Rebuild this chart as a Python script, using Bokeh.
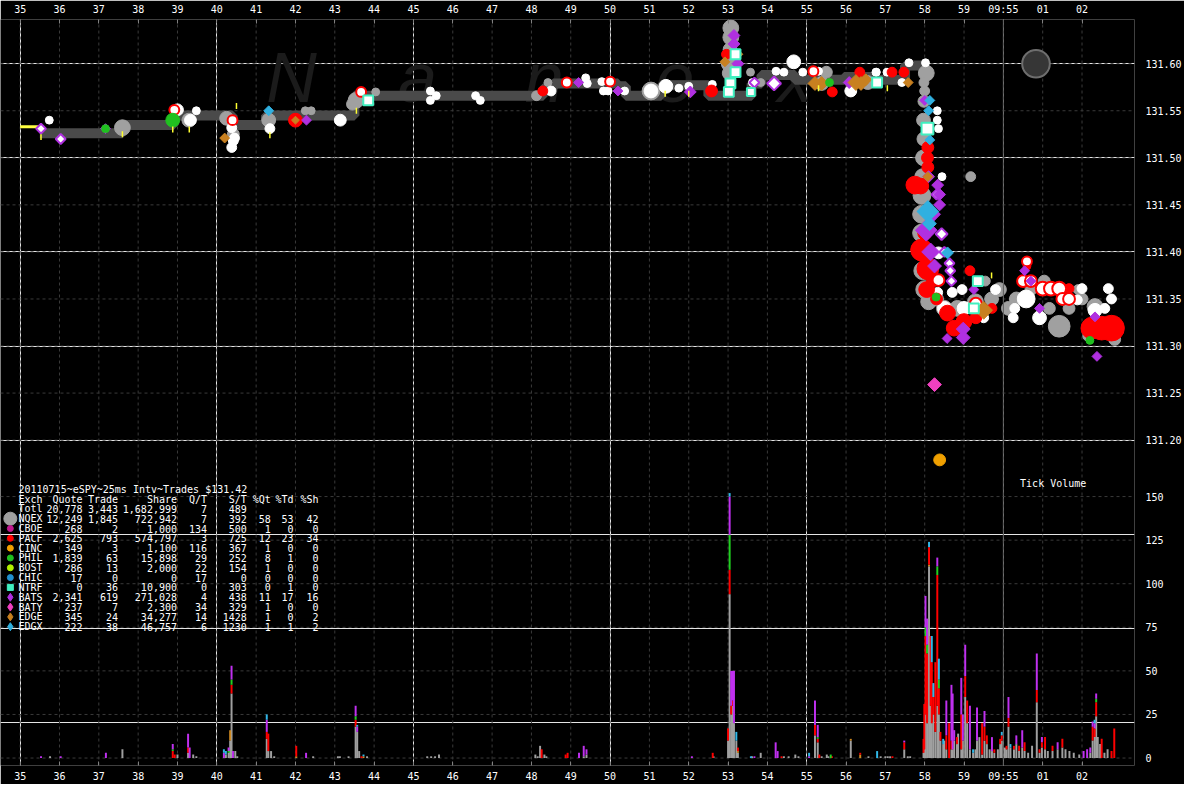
import numpy as np
from bokeh.plotting import figure
from bokeh.models import (Range1d, LinearAxis, FixedTicker, CustomJSTickFormatter,
                          Span, ColumnDataSource)
from bokeh.core.properties import value
from bokeh.embed import file_html
from bokeh.resources import INLINE

# ---------------------------------------------------------------- data
x_tick_secs = list(range(35, 63))
x_tick_labels = [str(s) for s in range(35, 60)] + ["09:55", "01", "02"]
price_ticks = [131.20, 131.25, 131.30, 131.35, 131.40, 131.45, 131.50, 131.55, 131.60, 131.65]
vol_ticks = [0, 25, 50, 75, 100, 125, 150]

band_t = [35.5, 37.6, 38.9, 40.4, 41.25, 43.5, 48.3, 48.55, 50.2, 50.4, 51.3, 52.5, 53.6, 53.85,
          54.7, 55.95, 56.75, 57.5, 58.05]
band_p = [131.526, 131.535, 131.545, 131.535, 131.545, 131.566, 131.574, 131.579, 131.576, 131.566,
          131.577, 131.566, 131.579, 131.588, 131.583, 131.586, 131.583, 131.598, 131.598]
yellow_t = [35.0, 35.5]
yellow_p = [131.533, 131.533]

nqex_pts = [(37.60, 131.532, 16), (39.29, 131.540, 14), (40.25, 131.542, 14), (40.42, 131.525, 12),
            (41.32, 131.540, 14), (42.25, 131.550, 8), (42.40, 131.550, 8), (43.45, 131.557, 12),
            (43.54, 131.561, 16), (44.04, 131.570, 8), (48.13, 131.566, 10), (48.42, 131.580, 8),
            (51.04, 131.571, 18), (53.07, 131.638, 16), (53.07, 131.628, 16), (53.05, 131.615, 14),
            (53.03, 131.600, 16), (53.03, 131.590, 14), (53.57, 131.591, 8), (53.83, 131.580, 8),
            (55.50, 131.591, 12), (55.38, 131.579, 14), (56.55, 131.580, 14), (58.04, 131.590, 16),
            (57.98, 131.580, 10), (58.00, 131.571, 10), (57.98, 131.560, 12), (57.97, 131.540, 14),
            (57.98, 131.520, 14), (57.97, 131.500, 16), (57.95, 131.480, 16), (57.93, 131.460, 18),
            (57.92, 131.440, 18), (57.92, 131.420, 18), (57.93, 131.400, 18), (57.95, 131.380, 18),
            (58.00, 131.360, 18), (58.10, 131.347, 16), (58.30, 131.350, 14), (58.50, 131.340, 16),
            (58.83, 131.340, 16), (59.17, 131.480, 10), (59.29, 131.347, 16), (59.54, 131.369, 10),
            (59.70, 131.350, 14), (59.90, 131.360, 14), (60.13, 131.340, 14), (60.33, 131.350, 14),
            (60.70, 131.360, 12), (61.04, 131.369, 12), (61.17, 131.340, 12), (61.42, 131.321, 22),
            (61.67, 131.340, 12), (61.90, 131.360, 10), (62.00, 131.350, 12), (62.33, 131.342, 16),
            (62.17, 131.311, 12), (62.83, 131.307, 12)]
white_pts = [(35.74, 131.540, 8), (39.00, 131.551, 12), (39.33, 131.540, 12), (39.48, 131.550, 8),
             (40.38, 131.532, 10), (40.45, 131.521, 10), (40.38, 131.511, 10), (40.42, 131.518, 10),
             (41.35, 131.531, 10), (43.14, 131.540, 12), (45.43, 131.571, 8), (45.58, 131.566, 8),
             (45.43, 131.561, 8), (46.58, 131.566, 8), (46.70, 131.561, 8), (48.50, 131.571, 10),
             (49.38, 131.585, 8), (49.42, 131.579, 8), (49.79, 131.581, 8), (49.83, 131.571, 8),
             (49.95, 131.571, 8), (50.37, 131.571, 8), (51.04, 131.571, 14), (51.42, 131.576, 14),
             (51.75, 131.574, 8), (52.00, 131.576, 8), (52.60, 131.578, 8), (53.62, 131.580, 8),
             (54.22, 131.592, 8), (54.42, 131.591, 8), (54.67, 131.602, 14), (54.90, 131.591, 8),
             (55.30, 131.592, 8), (56.12, 131.571, 12), (56.76, 131.591, 8), (56.80, 131.580, 8),
             (57.04, 131.591, 8), (57.42, 131.580, 8), (57.60, 131.601, 8), (58.02, 131.601, 8),
             (56.77, 131.591, 8), (58.32, 131.550, 8), (58.32, 131.540, 8), (58.35, 131.531, 8),
             (58.44, 131.480, 8), (58.35, 131.399, 12), (58.33, 131.357, 10), (58.70, 131.357, 10),
             (58.50, 131.340, 14), (59.00, 131.340, 14), (59.50, 131.330, 10), (60.58, 131.350, 18),
             (60.29, 131.340, 10), (60.25, 131.330, 10), (60.92, 131.330, 14), (61.88, 131.349, 10),
             (62.00, 131.361, 10), (62.67, 131.361, 10), (62.75, 131.350, 10), (62.58, 131.340, 10),
             (62.33, 131.338, 14), (58.95, 131.360, 10), (59.80, 131.360, 10)]
pacf_pts = [(42.00, 131.540, 14), (48.29, 131.571, 10), (52.58, 131.571, 12), (52.96, 131.610, 10),
            (55.65, 131.570, 10), (56.35, 131.591, 10), (57.17, 131.591, 10), (57.47, 131.591, 10),
            (58.08, 131.511, 12), (58.07, 131.500, 12), (58.08, 131.490, 12), (57.90, 131.470, 16),
            (57.75, 131.471, 18), (58.00, 131.420, 14), (57.92, 131.402, 22), (58.08, 131.382, 22),
            (58.20, 131.369, 12), (58.05, 131.360, 16), (58.30, 131.350, 12), (58.58, 131.335, 16),
            (59.00, 131.326, 16), (58.75, 131.319, 16), (59.15, 131.380, 10), (59.30, 131.330, 12),
            (59.71, 131.340, 10), (60.60, 131.385, 8), (61.50, 131.361, 10), (61.67, 131.361, 10),
            (62.25, 131.319, 22), (62.50, 131.319, 24), (62.75, 131.319, 26)]
pacf_quote_pts = [(38.92, 131.551, 10), (40.40, 131.540, 10), (43.67, 131.570, 10), (48.90, 131.580, 10),
                  (50.00, 131.581, 10), (55.17, 131.592, 10), (58.35, 131.370, 12), (59.30, 131.345, 12),
                  (60.50, 131.369, 12), (60.70, 131.369, 12), (61.00, 131.361, 14), (61.21, 131.361, 14),
                  (61.42, 131.361, 14), (61.50, 131.350, 12), (61.67, 131.350, 12), (60.60, 131.390, 10)]
bats_quote_pts = [(35.53, 131.531, 10), (36.03, 131.520, 10), (53.67, 131.580, 10), (54.17, 131.579, 14),
                  (58.30, 131.461, 10), (58.43, 131.419, 12), (58.63, 131.388, 10), (58.65, 131.380, 10),
                  (58.68, 131.369, 10), (58.50, 131.400, 10)]
bats_pts = [(37.17, 131.531, 10), (38.90, 131.540, 10), (42.28, 131.540, 10), (49.20, 131.580, 10),
            (50.20, 131.571, 10), (52.04, 131.570, 12), (53.15, 131.630, 12), (53.15, 131.621, 12),
            (53.25, 131.600, 12), (56.08, 131.580, 12), (58.00, 131.561, 10), (58.10, 131.480, 12),
            (58.33, 131.471, 12), (58.38, 131.461, 12), (58.38, 131.450, 12), (58.20, 131.440, 16),
            (58.04, 131.423, 22), (58.15, 131.400, 18), (58.25, 131.385, 14), (58.98, 131.318, 14),
            (58.98, 131.309, 14), (58.57, 131.308, 10), (59.25, 131.360, 10), (60.54, 131.380, 10),
            (60.70, 131.369, 10), (60.92, 131.340, 10), (62.33, 131.331, 10), (62.38, 131.289, 10)]
edgx_pts = [(41.32, 131.550, 10), (58.13, 131.561, 10), (58.10, 131.550, 10), (58.13, 131.519, 10),
            (58.08, 131.443, 22), (58.12, 131.430, 14), (58.58, 131.399, 12)]
edge_pts = [(40.20, 131.521, 10), (42.00, 131.540, 8), (52.92, 131.602, 10), (53.25, 131.610, 10),
            (55.21, 131.579, 14), (55.38, 131.579, 14), (56.25, 131.580, 16), (56.38, 131.579, 14),
            (56.50, 131.583, 12), (57.58, 131.580, 10), (58.08, 131.480, 10), (59.50, 131.338, 18)]
ntrf_pts = [(43.85, 131.561, 10), (53.19, 131.610, 10), (53.19, 131.591, 10), (53.06, 131.579, 10),
            (53.02, 131.570, 10), (53.58, 131.570, 8), (56.79, 131.580, 10), (58.07, 131.531, 12),
            (59.35, 131.369, 10), (59.25, 131.340, 10)]
phil_pts = [(37.17, 131.531, 8), (38.88, 131.540, 14), (55.58, 131.580, 8), (58.29, 131.352, 8),
            (62.20, 131.306, 8)]
bost_pts = [(35.53, 131.522, 6), (37.60, 131.525, 6), (38.88, 131.530, 6), (39.30, 131.530, 6),
            (40.50, 131.555, 6), (41.35, 131.524, 6), (43.55, 131.550, 6), (51.40, 131.568, 6),
            (52.00, 131.568, 6), (55.30, 131.574, 6), (57.05, 131.574, 6), (59.70, 131.375, 6)]
baty_pts = [(58.25, 131.259, 14)]
cinc_pts = [(58.38, 131.179, 12)]
indicator_t = [60.83]
indicator_p = [131.60]

vol_gray = [(35.76, 1), (37.60, 5), (39.00, 2), (39.27, 3), (39.40, 2), (39.48, 1), (40.23, 2), (40.30, 3),
            (40.34, 10), (40.375, 37), (40.47, 4), (40.52, 1), (41.27, 11), (41.31, 4), (41.38, 4),
            (41.46, 1), (42.45, 1), (43.08, 1), (43.13, 1), (43.35, 1), (43.53, 18), (43.57, 15),
            (43.62, 4), (43.82, 1), (45.35, 1), (45.45, 1), (45.55, 1), (45.65, 2), (48.10, 2), (48.16, 1),
            (48.22, 7), (48.33, 2), (48.38, 1), (49.33, 1), (49.40, 2), (52.63, 1), (53.00, 10),
            (53.04, 94), (53.08, 25), (53.12, 30), (53.15, 20), (53.21, 10), (53.25, 3), (53.61, 1),
            (53.83, 3), (54.42, 1), (54.54, 1), (54.71, 2), (54.79, 1), (55.21, 13), (55.28, 9),
            (55.38, 1), (55.51, 2), (55.55, 1), (56.12, 10), (56.57, 1), (56.88, 1), (57.00, 1),
            (57.06, 1), (57.12, 1), (57.48, 5), (57.57, 1), (57.63, 1), (57.97, 3), (57.99, 5),
            (58.02, 25), (58.06, 20), (58.11, 110), (58.15, 30), (58.18, 20), (58.22, 25), (58.27, 15),
            (58.32, 30), (58.36, 25), (58.40, 10), (58.47, 8), (58.50, 10), (58.55, 5), (58.68, 5),
            (58.71, 5), (58.75, 10), (58.82, 8), (58.85, 14), (58.93, 5), (58.97, 10), (59.03, 35),
            (59.08, 20), (59.15, 5), (59.23, 3), (59.29, 5), (59.33, 10), (59.39, 12), (59.46, 2),
            (59.52, 10), (59.58, 8), (59.65, 5), (59.71, 4), (59.77, 3), (59.86, 5), (59.92, 8),
            (59.96, 10), (60.04, 6), (60.08, 5), (60.13, 18), (60.18, 6), (60.27, 5), (60.33, 8),
            (60.40, 4), (60.48, 6), (60.54, 4), (60.63, 3), (60.73, 7), (60.85, 32), (60.92, 3),
            (60.98, 6), (61.06, 5), (61.13, 4), (61.25, 4), (61.38, 5), (61.50, 6), (61.58, 5),
            (61.68, 4), (61.79, 3), (61.93, 2), (62.21, 3), (62.27, 10), (62.32, 12), (62.36, 24),
            (62.40, 12), (62.46, 8), (62.57, 3), (62.65, 5)]
vol_orange = [(40.34, 6), (42.02, 1), (43.73, 1), (53.25, 1), (56.12, 1), (56.36, 2), (58.11, 1)]
vol_red = [(38.88, 4), (38.93, 2), (39.27, 3), (40.375, 5), (41.27, 4), (41.31, 10), (42.02, 6), (43.53, 4),
           (43.68, 1), (48.26, 5), (48.87, 2), (48.92, 3), (52.61, 3), (53.00, 7), (53.04, 14), (53.08, 5),
           (53.12, 3), (53.25, 2), (54.36, 1), (55.21, 6), (55.28, 2), (55.32, 2), (55.64, 1), (56.36, 1),
           (57.18, 1), (57.48, 4), (57.97, 8), (57.99, 26), (58.02, 45), (58.06, 40), (58.11, 10),
           (58.15, 40), (58.18, 35), (58.22, 10), (58.27, 40), (58.32, 75), (58.36, 15), (58.40, 5),
           (58.55, 8), (58.62, 20), (58.68, 5), (58.82, 4), (58.93, 20), (59.03, 12), (59.08, 13),
           (59.46, 18), (59.52, 8), (59.58, 5), (59.77, 2), (59.92, 3), (59.96, 3), (60.08, 2),
           (60.13, 5), (60.27, 2), (60.40, 3), (60.54, 5), (60.85, 7), (60.92, 2), (60.98, 3),
           (61.06, 7), (61.25, 3), (61.50, 5), (62.27, 8), (62.32, 5), (62.36, 8), (62.50, 11),
           (62.75, 4), (62.82, 17)]
vol_green = [(38.88, 1), (40.30, 1), (40.375, 3), (43.53, 2), (53.04, 20), (55.28, 1), (55.61, 2),
             (58.02, 5), (58.06, 5), (58.32, 5), (58.36, 5), (62.36, 2)]
vol_purple = [(35.53, 1), (36.03, 1), (37.18, 3), (38.88, 3), (39.27, 8), (39.31, 6), (40.18, 3), (40.30, 2),
              (40.375, 8), (40.41, 4), (41.27, 7), (42.27, 3), (43.53, 6), (43.57, 3), (49.21, 3),
              (49.33, 6), (49.40, 3), (52.08, 1), (53.04, 22), (53.08, 20), (53.12, 17), (53.15, 30),
              (53.67, 1), (54.21, 9), (54.26, 4), (55.06, 1), (55.21, 14), (55.28, 7), (57.48, 1),
              (58.02, 18), (58.06, 15), (58.32, 5), (58.55, 20), (58.68, 32), (58.71, 32), (58.75, 6),
              (58.93, 21), (58.97, 15), (59.03, 18), (59.15, 25), (59.33, 19), (59.52, 9), (59.71, 8),
              (60.13, 12), (60.33, 5), (60.48, 10), (60.85, 21), (60.98, 3), (61.38, 4), (62.04, 4),
              (62.13, 5), (62.21, 3), (62.27, 3), (62.32, 3), (62.36, 3)]
vol_blue = [(40.18, 2), (40.23, 2), (41.27, 3), (43.57, 1), (43.73, 1), (53.04, 2), (53.21, 5), (53.58, 1),
            (55.06, 2), (56.79, 4), (58.11, 3), (58.18, 15), (58.22, 8), (58.36, 12), (58.47, 3),
            (59.23, 2), (59.96, 2), (60.18, 2), (62.32, 2)]

table_title = "20110715~eSPY~25ms Intv~Trades $131.42"
table_header = ["Exch", "Quote", "Trade", "Share", "Q/T", "S/T", "%Qt", "%Td", "%Sh"]
exch = ["Totl", "NQEX", "CBOE", "PACF", "CINC", "PHIL", "BOST", "CHIC", "NTRF", "BATS", "BATY", "EDGE", "EDGX"]
quotes = ["20,778", "12,249", "268", "2,625", "349", "1,839", "286", "17", "0", "2,341", "237", "345", "222"]
trades = ["3,443", "1,845", "2", "793", "3", "63", "13", "0", "36", "619", "7", "24", "38"]
shares = ["1,682,999", "722,942", "1,000", "574,797", "1,100", "15,898", "2,000", "0", "10,900",
          "271,028", "2,300", "34,277", "46,757"]
q_per_t = ["7", "7", "134", "3", "116", "29", "22", "17", "0", "4", "34", "14", "6"]
s_per_t = ["489", "392", "500", "725", "367", "252", "154", "0", "303", "438", "329", "1428", "1230"]
pct_qt = ["", "58", "1", "12", "1", "8", "1", "0", "0", "11", "1", "1", "1"]
pct_td = ["", "53", "0", "23", "0", "1", "0", "0", "1", "17", "0", "0", "1"]
pct_sh = ["", "42", "0", "34", "0", "0", "0", "0", "0", "16", "0", "2", "2"]
exch_colors = ["#a0a0a0", "#c01890", "#ff0000", "#f0a000", "#20c020", "#b0f000", "#2090d0",
               "#40f0c0", "#b030e0", "#f040c0", "#c88020", "#30b0e0"]
exch_markers = ["circle"] * 7 + ["square"] + ["diamond"] * 4
watermark = ["N", "a", "n", "e", "x"]

# ---------------------------------------------------------------- layout
W, H = 1184, 784
BL, BR, BT, BB = 0, 46, 16, 16
SX, SY = W / 1200.0, H / 800.0
X0_REF, SEC_PX = 20.0, 40.0
P_REF_Y, P_REF, P_PX = 449.0, 131.20, 968.0
V0_Y, V_PX = 776.0, 1.793


def sec_of(xr):
    return 35 + (xr - X0_REF) / SEC_PX


def price_of(yr):
    return P_REF - (yr - P_REF_Y) / P_PX


def vol_of(yr):
    return (V0_Y - yr) / V_PX


left_ref, right_ref = BL / SX, (W - BR) / SX
top_ref, bot_ref = BT / SY, (H - BB) / SY
x0, x1 = sec_of(left_ref), sec_of(right_ref)
y0, y1 = price_of(bot_ref), price_of(top_ref)

p = figure(width=W, height=H, output_backend="svg", toolbar_location=None,
           x_range=Range1d(x0, x1), y_range=Range1d(y0, y1),
           x_axis_location=None, y_axis_location=None,
           min_border_left=BL, min_border_right=BR, min_border_top=BT, min_border_bottom=BB,
           background_fill_color="black", border_fill_color="black", outline_line_color=None)
p.extra_y_ranges = {"vol": Range1d(vol_of(bot_ref), vol_of(top_ref))}

va = V_PX / P_PX
vb = P_REF - (V0_Y - P_REF_Y) / P_PX
y_all_ticks = price_ticks + [va * v + vb for v in vol_ticks]

xt = FixedTicker(ticks=x_tick_secs)
yt = FixedTicker(ticks=y_all_ticks)
fmt_x = CustomJSTickFormatter(args=dict(labels=x_tick_labels, secs=x_tick_secs),
                              code="const i = secs.indexOf(Math.round(tick)); return i >= 0 ? labels[i] : '';")
fmt_y = CustomJSTickFormatter(args=dict(a=va, b=vb, thr=131.17),
                              code="if (tick > thr) { return tick.toFixed(2); } return String(Math.round((tick - b) / a));")

# dashed grid
GRID = "#3a3a3a"
p.multi_line(xs=[[t, t] for t in x_tick_secs], ys=[[y0, y1]] * len(x_tick_secs),
             line_color=GRID, line_width=1, line_dash="3 3")
p.multi_line(xs=[[x0, x1]] * len(y_all_ticks), ys=[[v, v] for v in y_all_ticks],
             line_color=GRID, line_width=1, line_dash="3 3")

mono = "DejaVu Sans Mono"
for loc in ("above", "below"):
    ax = LinearAxis(ticker=xt, formatter=fmt_x, axis_line_color=None, major_tick_in=4, major_tick_out=0,
                    major_tick_line_color="#808080", minor_tick_line_color=None,
                    major_label_text_color="white", major_label_text_font=mono,
                    major_label_text_font_size="10px", major_label_standoff=5)
    p.add_layout(ax, loc)
ay = LinearAxis(ticker=yt, formatter=fmt_y, axis_line_color=None, major_tick_line_color=None,
                minor_tick_line_color=None, major_label_text_color="white", major_label_text_font=mono,
                major_label_text_font_size="10px", major_label_standoff=5)
p.add_layout(ay, "right")

wm_x = [sec_of(v) for v in (296, 424, 553, 686, 808)]
p.text(x=wm_x, y=[price_of(76)] * 5, text=watermark, text_font=value("Liberation Sans"),
       text_font_style="italic", text_font_size="70px", text_color="#1b1b1b",
       text_align="center", text_baseline="alphabetic")

p.add_layout(Span(location=60, dimension="height", line_color="#5a5a5a", line_width=1))

acc = {}
BAR_W = 0.05
for series, col in ((vol_gray, "#a0a0a0"), (vol_orange, "#d08a20"), (vol_red, "#ff0000"),
                    (vol_green, "#20d020"), (vol_purple, "#c030f0"), (vol_blue, "#30b8e8")):
    xs = [t for t, _ in series]
    bottoms = [acc.get(t, 0) for t, _ in series]
    tops = [acc.get(t, 0) + v for t, v in series]
    for t, v in series:
        acc[t] = acc.get(t, 0) + v
    p.vbar(x=xs, bottom=bottoms, top=tops, width=BAR_W, y_range_name="vol",
           fill_color=col, line_color=None)

p.step(x=band_t, y=band_p, mode="after", line_color="#4a4a4a", line_width=10)
p.line(x=yellow_t, y=yellow_p, line_color="#ffff40", line_width=3)


def add(points, fill, line=None, lw=1.0, marker="circle", diamond=False, angle=0.0):
    t, pr, sz = zip(*points)
    k = SX / 1.414 if diamond else SX
    src = ColumnDataSource(dict(x=list(t), y=list(pr), s=[z * k for z in sz]))
    p.scatter("x", "y", size="s", source=src, marker="square" if diamond else marker,
              angle=np.pi / 4 if diamond else angle, fill_color=fill,
              line_color=line if line else fill, line_width=lw)


add(nqex_pts, "#a0a0a0")
add(white_pts, "#ffffff")
add(pacf_pts, "#ff0000")
add(pacf_quote_pts, "#ffffff", "#ff0000", 2)
add(bats_quote_pts, "#ffffff", "#b030e0", 2, diamond=True)
add(bats_pts, "#b030e0", diamond=True)
add(edgx_pts, "#30b0e0", diamond=True)
add(edge_pts, "#c88020", diamond=True)
add(ntrf_pts, "#ffffff", "#40f0c0", 2, marker="square")
add(phil_pts, "#20c020")
add(bost_pts, "#ffff30", "#ffff30", 1.5, marker="dash", angle=np.pi / 2)
add(baty_pts, "#f040c0", diamond=True)
add(cinc_pts, "#f0a000")
p.scatter(x=indicator_t, y=indicator_p, size=28 * SX, fill_color="#363636", line_color="#6e6e6e",
          line_width=2)

p.text(x=[sec_of(1037)], y=[price_of(494)], text=["Tick Volume"], text_font=value(mono),
       text_font_size="10px", text_color="white", text_align="left", text_baseline="middle")

row_y = [price_of(499.5 + 10.1 * k) for k in range(15)]
tx = sec_of(18.3)
p.text(x=[tx], y=[row_y[0]], text=[table_title], text_font=value(mono), text_font_size="10px",
       text_color="white", text_align="left", text_baseline="middle")
cols = [exch, quotes, trades, shares, q_per_t, s_per_t, pct_qt, pct_td, pct_sh]
col_right = [None, 83.5, 119.5, 179.5, 210.0, 250.5, 275.0, 298.0, 323.5]
for ci, (hdr, vals) in enumerate(zip(table_header, cols)):
    texts = [hdr] + vals
    if ci == 0:
        xs, align = [tx] * len(texts), "left"
    else:
        xs, align = [sec_of(col_right[ci])] * len(texts), "right"
    p.text(x=xs, y=row_y[1:1 + len(texts)], text=texts, text_font=value(mono), text_font_size="10px",
           text_color="white", text_align=align, text_baseline="middle")

leg_src = ColumnDataSource(dict(
    x=[sec_of(10)] * len(exch_colors), y=row_y[3:3 + len(exch_colors)], c=exch_colors,
    m=exch_markers, s=[13] + [6] * 6 + [6] + [8] * 4))
p.scatter("x", "y", size="s", marker="m", fill_color="c", line_color="c", source=leg_src)

open("out.html", "w").write(file_html(p, INLINE))
